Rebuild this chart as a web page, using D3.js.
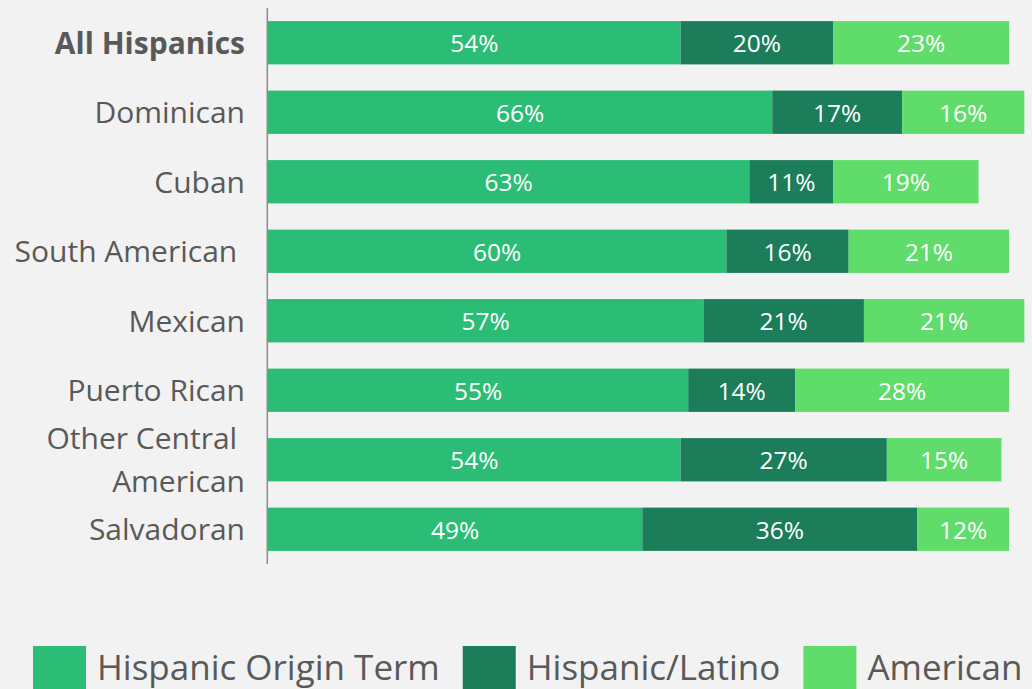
<!DOCTYPE html>
<html>
<head>
<meta charset="utf-8">
<script src="https://cdn.jsdelivr.net/npm/d3@7"></script>
<style>
  html, body { margin: 0; padding: 0; background: #f2f2f2; }
  svg { display: block; }
  text { font-family: "Open Sans", "Noto Sans", sans-serif; }
</style>
</head>
<body>
<svg id="chart" width="1032" height="689"></svg>
<script>
// Preferred identity term by Hispanic origin group (percent of respondents)
const categories = [
  "All Hispanics",
  "Dominican",
  "Cuban",
  "South American ",
  "Mexican",
  "Puerto Rican",
  "Other Central \nAmerican",
  "Salvadoran"
];
const originTerm     = [54, 66, 63, 60, 57, 55, 54, 49];
const hispanicLatino = [20, 17, 11, 16, 21, 14, 27, 36];
const american       = [23, 16, 19, 21, 21, 28, 15, 12];

const seriesNames  = ["Hispanic Origin Term", "Hispanic/Latino", "American"];
const seriesColors = ["#2bbd75", "#1b7d59", "#5fdc6a"];

const rows = categories.map((c, i) => ({
  category: c,
  "Hispanic Origin Term": originTerm[i],
  "Hispanic/Latino": hispanicLatino[i],
  "American": american[i]
}));

const svg = d3.select("#chart");
const W = 1032, H = 689;

svg.append("rect").attr("width", W).attr("height", H).attr("fill", "#f2f2f2");

const x = d3.scaleLinear().domain([0, 100]).range([268, 1032]);
const y = d3.scaleBand()
  .domain(categories)
  .range([8, 564])
  .paddingInner(0.377)
  .paddingOuter(0.1885);

const color = d3.scaleOrdinal().domain(seriesNames).range(seriesColors);

const stacked = d3.stack().keys(seriesNames)(rows);

// stacked bar segments
const layers = svg.append("g")
  .selectAll("g")
  .data(stacked)
  .join("g")
  .attr("fill", d => color(d.key));

layers.selectAll("rect")
  .data(d => d)
  .join("rect")
  .attr("x", d => x(d[0]))
  .attr("y", d => y(d.data.category))
  .attr("width", d => x(d[1]) - x(d[0]))
  .attr("height", y.bandwidth());

// value labels centred in each segment
layers.selectAll("text")
  .data(d => d)
  .join("text")
  .attr("x", d => (x(d[0]) + x(d[1])) / 2)
  .attr("y", d => y(d.data.category) + y.bandwidth() / 2 + 9.5)
  .attr("text-anchor", "middle")
  .attr("fill", "#ffffff")
  .style("font-size", "24.5px")
  .text(d => `${d[1] - d[0]}%`);

// category axis
const axis = svg.append("g");
axis.append("line")
  .attr("x1", 267.3).attr("x2", 267.3)
  .attr("y1", y.range()[0]).attr("y2", y.range()[1])
  .attr("stroke", "#8c8c8c")
  .attr("stroke-width", 1.5);

const labels = axis.selectAll("text.cat")
  .data(categories)
  .join("text")
  .attr("class", "cat")
  .attr("text-anchor", "end")
  .attr("fill", "#595959")
  .style("font-size", "30px")
  .style("white-space", "pre")
  .style("font-weight", (d, i) => i === 0 ? 700 : 400);

labels.each(function (d) {
  const lines = d.split("\n");
  const cy = y(d) + y.bandwidth() / 2;
  const lineH = 43;
  const first = cy + 11 - (lines.length - 1) * lineH / 2;
  d3.select(this).selectAll("tspan")
    .data(lines)
    .join("tspan")
    .attr("x", 245)
    .attr("y", (l, j) => first + j * lineH)
    .text(l => l);
});

// legend
const legend = svg.append("g");
let lx = 33;
seriesNames.forEach(name => {
  legend.append("rect")
    .attr("x", lx).attr("y", 646)
    .attr("width", 53).attr("height", 53)
    .attr("fill", color(name));
  const t = legend.append("text")
    .attr("x", lx + 64).attr("y", 680)
    .attr("fill", "#595959")
    .style("font-size", "35px")
    .text(name);
  lx += 64 + t.node().getComputedTextLength() + 23;
});
</script>
</body>
</html>
